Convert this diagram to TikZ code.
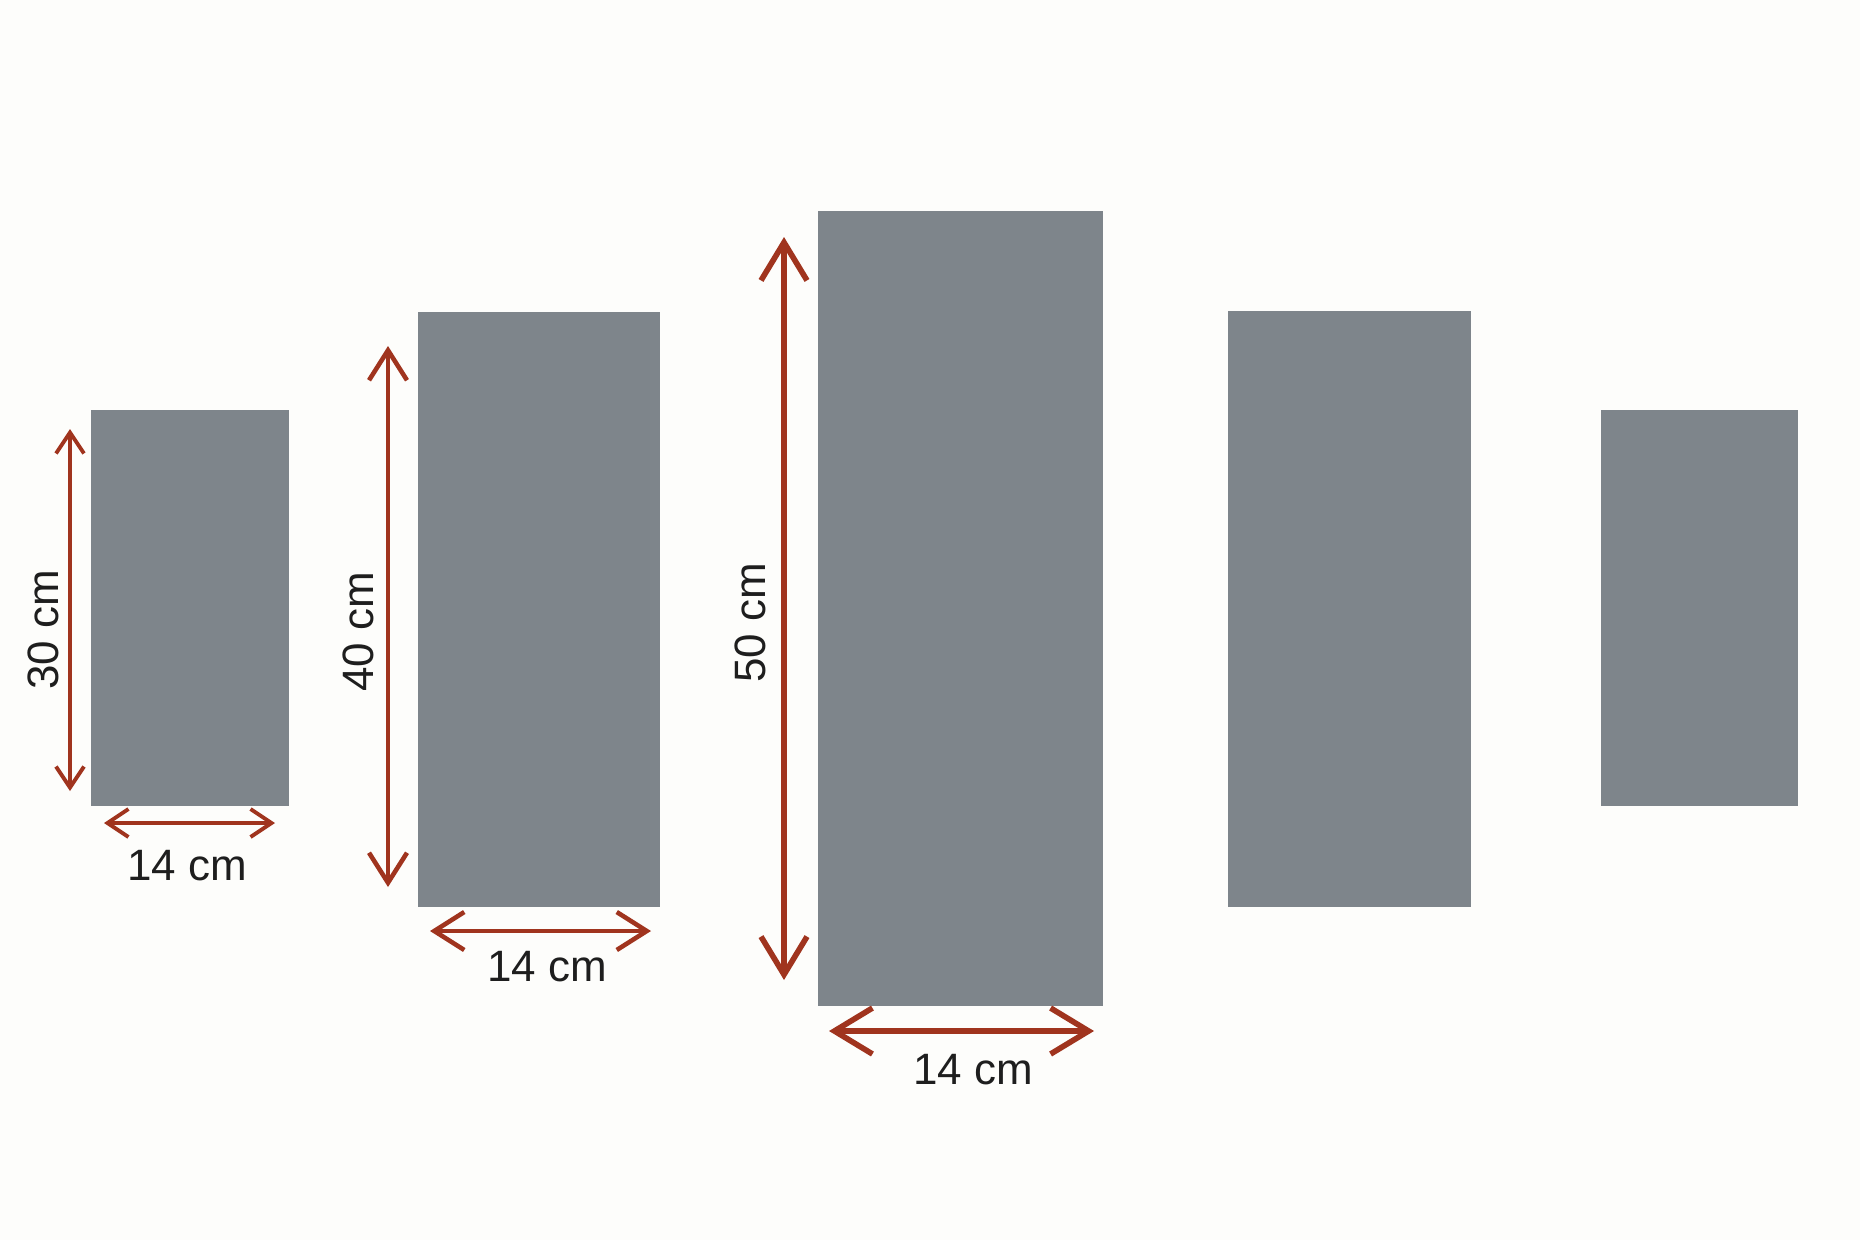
\documentclass[tikz,border=0pt]{standalone}
\usepackage{fontspec}
\setmainfont{Liberation Sans}
\usepackage{tikz}
\usetikzlibrary{arrows.meta}
\usepackage{color}
\definecolor{Panel-Grey}{RGB}{126,133,139}
\definecolor{Dim-Red}{RGB}{160,52,30}
\definecolor{Paper}{RGB}{253,253,251}
\definecolor{Label-Ink}{RGB}{30,30,30}

\begin{document}
\begin{tikzpicture}
    \path[use as bounding box, fill=Paper] (0.0, 0.0) rectangle (18.6, 12.4);

    \tikzset{ panel/.style ={fill=Panel-Grey, draw=none, inner sep=0pt, rectangle} }
    \tikzset{ dim/.style   ={draw=Dim-Red, line cap=round, <->} }
    \tikzset{ dimS/.style  ={dim, line width=1.1pt, >={Straight Barb[length=2.1mm, width=2.8mm, line width=1.1pt]}} }
    \tikzset{ dimM/.style  ={dim, line width=1.2pt, >={Straight Barb[length=3.0mm, width=3.8mm, line width=1.3pt]}} }
    \tikzset{ dimL/.style  ={dim, line width=1.6pt, >={Straight Barb[length=3.8mm, width=4.6mm, line width=1.6pt]}} }
    \tikzset{ size/.style  ={text=Label-Ink, font=\fontsize{12.5}{15}\selectfont, inner sep=0pt} }

    \node[panel, minimum width=1.98cm, minimum height=3.96cm] (p1) at ( 1.900, 6.32) {};
    \node[panel, minimum width=2.42cm, minimum height=5.95cm] (p2) at ( 5.390, 6.31) {};
    \node[panel, minimum width=2.85cm, minimum height=7.95cm] (p3) at ( 9.605, 6.32) {};
    \node[panel, minimum width=2.43cm, minimum height=5.96cm] (p4) at (13.495, 6.31) {};
    \node[panel, minimum width=1.97cm, minimum height=3.96cm] (p5) at (16.995, 6.32) {};

    % ends of the dimension arrows
    \coordinate (h1b) at (0.70, 4.49);  \coordinate (h1t) at (0.70, 8.11);
    \coordinate (w1l) at (1.04, 4.17);  \coordinate (w1r) at (2.75, 4.17);
    \coordinate (h2b) at (3.88, 3.53);  \coordinate (h2t) at (3.88, 8.94);
    \coordinate (w2l) at (4.30, 3.09);  \coordinate (w2r) at (6.51, 3.09);
    \coordinate (h3b) at (7.84, 2.60);  \coordinate (h3t) at (7.84, 10.03);
    \coordinate (w3l) at (8.29, 2.09);  \coordinate (w3r) at (10.94, 2.09);

    \draw[dimS] (h1b) -- (h1t);
    \draw[dimS] (w1l) -- (w1r);
    \draw[dimM] (h2b) -- (h2t);
    \draw[dimM] (w2l) -- (w2r);
    \draw[dimL] (h3b) -- (h3t);
    \draw[dimL] (w3l) -- (w3r);

    \node[size, rotate=90] (h1) at (0.43, 6.10) {30 cm};
    \node[size]            (w1) at (1.87, 3.74) {14 cm};
    \node[size, rotate=90] (h2) at (3.58, 6.08) {40 cm};
    \node[size]            (w2) at (5.47, 2.73) {14 cm};
    \node[size, rotate=90] (h3) at (7.50, 6.17) {50 cm};
    \node[size]            (w3) at (9.73, 1.70) {14 cm};

  \end{tikzpicture}
\end{document}
